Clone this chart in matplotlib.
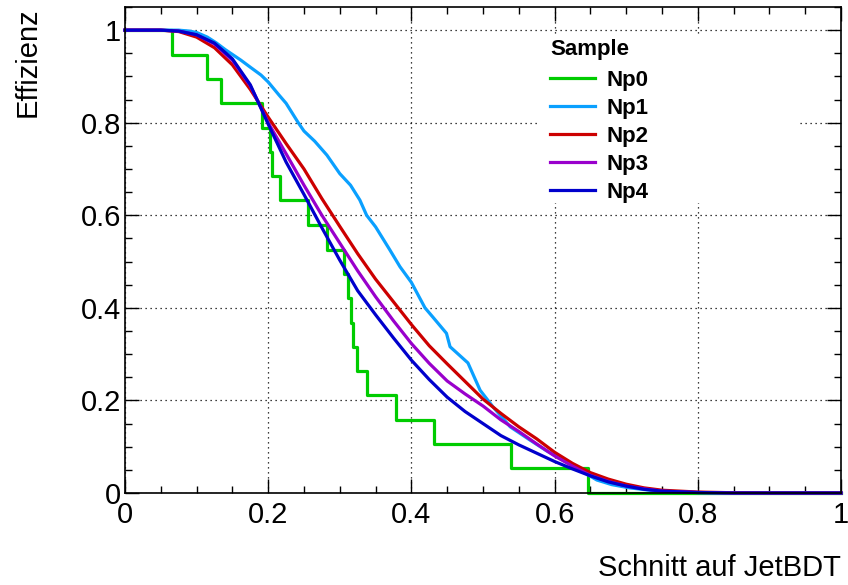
import numpy as np
import matplotlib
matplotlib.use("Agg")
from matplotlib import pyplot as plt
from matplotlib.ticker import MultipleLocator
from matplotlib.patches import Rectangle

plt.rcParams['font.family'] = ['Liberation Sans', 'DejaVu Sans']

# Np0: few events -> step curve (cut position, efficiency after the cut)
np0_x = [0, 0.066, 0.115, 0.134, 0.192, 0.2025, 0.205, 0.216, 0.256, 0.282, 0.306,
         0.311, 0.315, 0.318, 0.324, 0.338, 0.379, 0.432, 0.539, 0.647, 1.0]
np0_y = [1, 0.947, 0.895, 0.842, 0.789, 0.737, 0.684, 0.632, 0.579, 0.526, 0.474,
         0.421, 0.368, 0.316, 0.263, 0.211, 0.158, 0.105, 0.053, 0, 0]

# Np1: jagged curve
np1_x = [0, 0.05, 0.075, 0.09, 0.1, 0.115, 0.128, 0.14, 0.162, 0.175, 0.19, 0.2, 0.215,
         0.225, 0.242, 0.25, 0.265, 0.282, 0.3, 0.315, 0.328, 0.3375, 0.35, 0.37, 0.384,
         0.4, 0.419, 0.43, 0.449, 0.454, 0.479, 0.496, 0.514, 0.538, 0.566, 0.59, 0.612,
         0.635, 0.659, 0.68, 0.705, 0.75, 0.8, 0.85, 1.0]
np1_y = [1, 1, 1, 0.998, 0.995, 0.985, 0.972, 0.958, 0.935, 0.92, 0.903, 0.888, 0.86,
         0.842, 0.80, 0.782, 0.76, 0.73, 0.69, 0.665, 0.633, 0.60, 0.575, 0.525, 0.489,
         0.455, 0.40, 0.38, 0.345, 0.316, 0.281, 0.222, 0.186, 0.143, 0.114, 0.09, 0.071,
         0.05, 0.028, 0.018, 0.011, 0.003, 0.001, 0, 0]

# Np2..Np4: smooth curves on a common grid
cut = [0, 0.05, 0.075, 0.1, 0.125, 0.15, 0.175, 0.2, 0.225, 0.25, 0.275, 0.3, 0.325,
       0.35, 0.375, 0.4, 0.425, 0.45, 0.475, 0.5, 0.525, 0.55, 0.575, 0.6, 0.625,
       0.65, 0.675, 0.7, 0.725, 0.75, 0.8, 0.85, 0.9, 1.0]
np2_y = [1, 1, 0.997, 0.985, 0.962, 0.925, 0.872, 0.812, 0.755, 0.70, 0.636, 0.576, 0.517,
         0.462, 0.413, 0.364, 0.318, 0.279, 0.241, 0.203, 0.172, 0.143, 0.117, 0.088,
         0.064, 0.044, 0.030, 0.019, 0.011, 0.006, 0.002, 0.0005, 0, 0]
np3_y = [1, 1, 0.998, 0.99, 0.97, 0.935, 0.88, 0.80, 0.733, 0.665, 0.60, 0.54, 0.48,
         0.424, 0.372, 0.323, 0.28, 0.242, 0.214, 0.188, 0.158, 0.133, 0.106, 0.08,
         0.058, 0.038, 0.025, 0.015, 0.009, 0.004, 0.001, 0, 0, 0]
np4_y = [1, 1, 0.998, 0.99, 0.972, 0.938, 0.882, 0.797, 0.715, 0.645, 0.573, 0.503, 0.437,
         0.385, 0.335, 0.287, 0.245, 0.207, 0.176, 0.15, 0.124, 0.104, 0.086, 0.068,
         0.052, 0.037, 0.024, 0.015, 0.008, 0.004, 0.001, 0, 0, 0]

fig = plt.figure(figsize=(8.48, 5.85), dpi=100)
ax = fig.add_axes([0.1474, 0.1573, 0.8443, 0.8307])

lw = 2.3
ax.step(np0_x, np0_y, where='post', color='#00cc00', lw=lw, label='Np0', clip_on=False)
ax.plot(np1_x, np1_y, color='#0aa0ff', lw=lw, label='Np1', clip_on=False)
ax.plot(cut, np2_y, color='#cc0000', lw=lw, label='Np2', clip_on=False)
ax.plot(cut, np3_y, color='#9900cc', lw=lw, label='Np3', clip_on=False)
ax.plot(cut, np4_y, color='#0000cc', lw=lw, label='Np4', clip_on=False)

ax.set_xlim(0, 1)
ax.set_ylim(0, 1.05)
ax.xaxis.set_major_locator(MultipleLocator(0.2))
ax.xaxis.set_minor_locator(MultipleLocator(0.05))
ax.yaxis.set_major_locator(MultipleLocator(0.2))
ax.yaxis.set_minor_locator(MultipleLocator(0.05))
ax.set_xticks([0, 0.2, 0.4, 0.6, 0.8, 1.0], ['0', '0.2', '0.4', '0.6', '0.8', '1'])
ax.set_yticks([0, 0.2, 0.4, 0.6, 0.8, 1.0], ['0', '0.2', '0.4', '0.6', '0.8', '1'])
ax.tick_params(which='both', direction='in', top=True, right=True, labelsize=21)
ax.tick_params(which='major', length=10, width=1)
ax.tick_params(which='minor', length=5, width=1)
ax.tick_params(axis='x', pad=6)
ax.tick_params(axis='y', pad=3)
for s in ax.spines.values():
    s.set_linewidth(1.2)

ax.grid(True, which='major', color='black', linestyle=(0, (1, 3)), linewidth=0.9)
ax.set_axisbelow(True)

# white legend area hides the grid behind it
ax.add_patch(Rectangle((0.577, 0.597), 0.3615, 0.341, transform=ax.transAxes,
                       facecolor='white', edgecolor='none', zorder=1))

ax.set_xlabel('Schnitt auf JetBDT', fontsize=21, loc='right', labelpad=18)
ax.set_ylabel('Effizienz', fontsize=21, loc='top', labelpad=28)

leg = ax.legend(loc='upper left', bbox_to_anchor=(0.5845, 0.948), title='Sample',
                prop={'weight': 'bold', 'size': 16},
                title_fontproperties={'weight': 'bold', 'size': 16},
                alignment='left', handlelength=2.0, handletextpad=0.54,
                labelspacing=0.315, borderpad=0.3, borderaxespad=0,
                frameon=False)
leg._legend_box.sep = 0.315 * 16 + 2

fig.savefig('out.png', dpi=100)
